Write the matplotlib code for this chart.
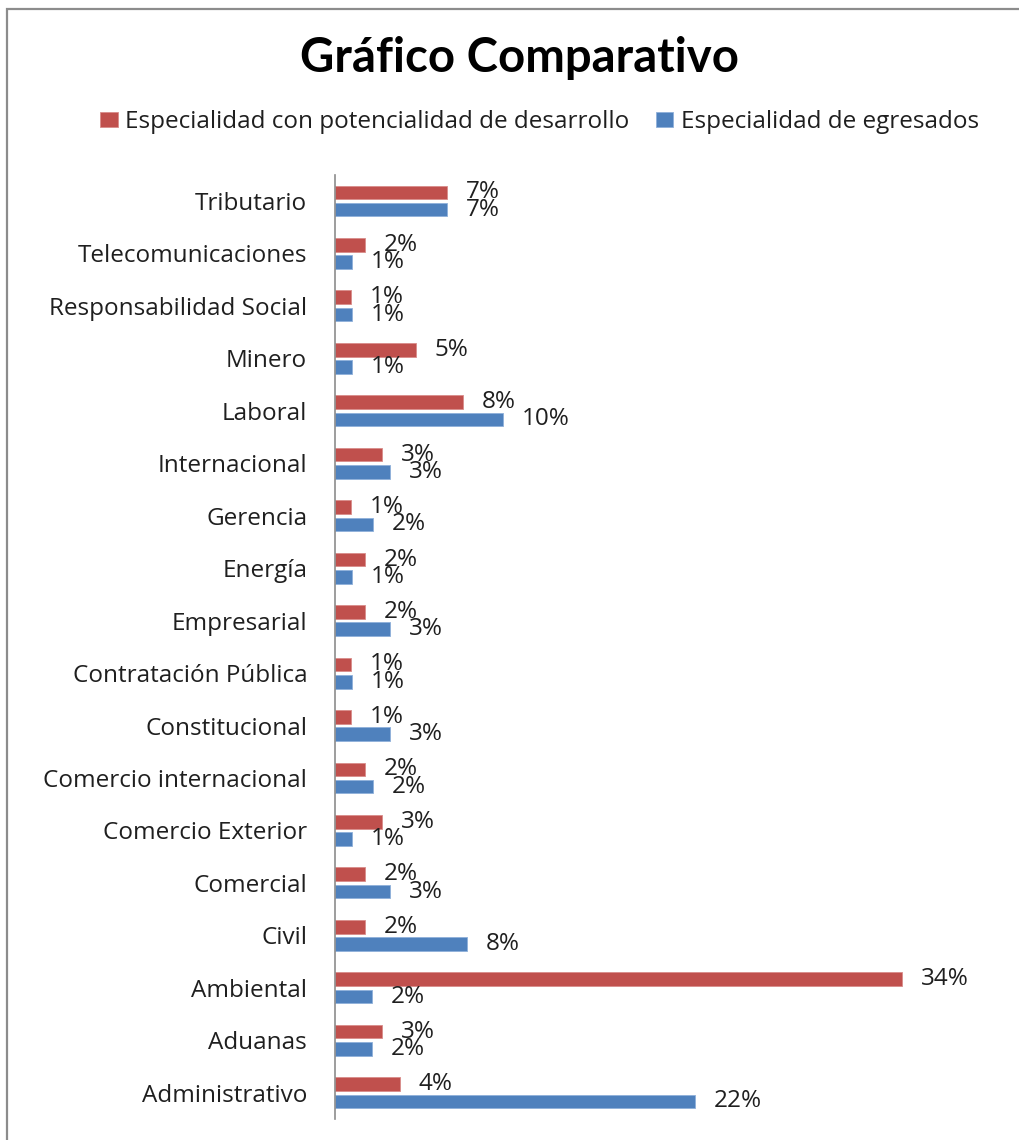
import matplotlib
matplotlib.use("Agg")
import matplotlib.pyplot as plt
from matplotlib.patches import Rectangle
import numpy as np

plt.rcParams['font.family'] = ['Open Sans', 'DejaVu Sans']

categories = ["Tributario", "Telecomunicaciones", "Responsabilidad Social", "Minero",
              "Laboral", "Internacional", "Gerencia", "Energía", "Empresarial",
              "Contratación Pública", "Constitucional", "Comercio internacional",
              "Comercio Exterior", "Comercial", "Civil", "Ambiental", "Aduanas",
              "Administrativo"]
potencial = [6.78, 1.83, 0.95, 4.88, 7.74, 2.84, 0.95, 1.83, 1.83, 0.95, 0.95, 1.83,
             2.84, 1.83, 1.83, 34.3, 2.84, 3.92]
egresados = [6.78, 1.03, 1.03, 1.03, 10.14, 3.33, 2.27, 1.03, 3.33, 1.03, 3.33, 2.27,
             1.03, 3.33, 8.0, 2.24, 2.24, 21.8]
series_names = ["Especialidad con potencialidad de desarrollo", "Especialidad de egresados"]
title = "Gráfico Comparativo"

RED = "#C0504D"
BLUE = "#4F81BD"
TXT = "#1f1f1f"
FS = 17.5

W, H = 1019, 1140
fig = plt.figure(figsize=(W / 100, H / 100), dpi=100)

# outer chart frame (top/left visible)
fig.patches.append(Rectangle((7 / W, -0.1), 1.2, 1 - 9 / H + 0.1, transform=fig.transFigure,
                             fill=False, edgecolor="#8c8c8c", linewidth=1.6))

ax_left, ax_right = 335 / W, 1001 / W
ax_top, ax_bot = 1 - 174.75 / H, 1 - 1119 / H
ax = fig.add_axes([ax_left, ax_bot, ax_right - ax_left, ax_top - ax_bot])

n = len(categories)
y = np.arange(n)[::-1]  # first category at top
h = 0.26
off = 0.165
b1 = ax.barh(y + off, potencial, height=h, color=RED, edgecolor="#d98c8a", linewidth=0.6,
             label=series_names[0])
b2 = ax.barh(y - off, egresados, height=h, color=BLUE, edgecolor="#8fb0da", linewidth=0.6,
             label=series_names[1])

for bars, vals in ((b1, potencial), (b2, egresados)):
    for rect, v in zip(bars, vals):
        ax.annotate(f"{v:.0f}%", xy=(rect.get_width(), rect.get_y() + rect.get_height() / 2),
                    xytext=(13.5, 0), textcoords="offset points", ha="left", va="center",
                    fontsize=FS, color=TXT)

ax.set_xlim(0, 40.3)
ax.set_ylim(-0.5, n - 0.5)
ax.set_yticks(y)
ax.set_yticklabels(categories, fontsize=FS, color=TXT)
ax.tick_params(axis="y", length=0, pad=20)
ax.set_xticks([])
for s in ("top", "right", "bottom"):
    ax.spines[s].set_visible(False)
ax.spines["left"].set_color("#8c8c8c")
ax.spines["left"].set_linewidth(1.2)
ax.patch.set_alpha(0)

fig.text(519.5 / W, 1 - 58 / H, title, ha="center", va="center", fontsize=34,
         fontweight="bold", color="#000000", family=["Lato", "DejaVu Sans"])

fig.legend(handles=[b1, b2], labels=series_names, loc="center",
           bbox_to_anchor=(539.5 / W, 1 - 122 / H), ncol=2, frameon=False,
           fontsize=FS, handlelength=0.72, handleheight=0.6, handletextpad=0.3,
           columnspacing=1.1, labelcolor=TXT)

fig.savefig("out.png", dpi=100, facecolor="white")
